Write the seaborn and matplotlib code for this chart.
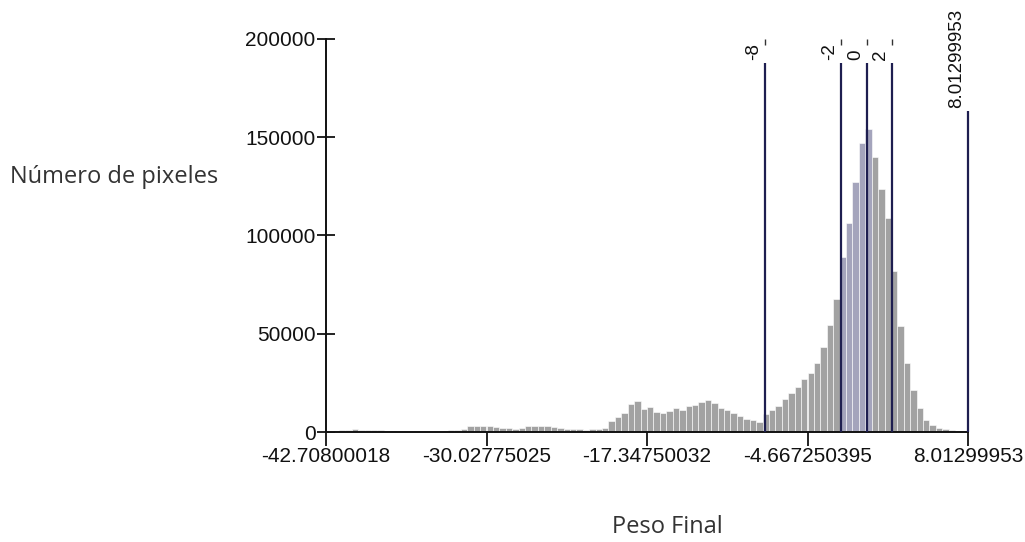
import numpy as np
import pandas as pd
import matplotlib
matplotlib.use("Agg")
import matplotlib.pyplot as plt
import matplotlib.transforms as mtransforms
import seaborn as sns

# Histogram of "Peso Final": 100 bins between the min and max value
x_min = -42.70800018
x_max = 8.01299953
counts = [
    300, 600, 1000, 1200, 1300, 1200, 1100, 900, 800, 700,
    400, 200, 150, 100, 100, 100, 100, 200, 400, 800,
    1000, 1300, 2800, 3200, 3300, 3000, 2600, 2200, 2000, 1600,
    1800, 2800, 3200, 3100, 2800, 2500, 2000, 1600, 1400, 1300,
    1200, 1300, 1500, 2000, 5700, 7800, 9500, 14200, 15600, 11500,
    12900, 10300, 9600, 10800, 12000, 11400, 13200, 13800, 15400, 16300,
    14900, 12200, 11300, 9800, 8000, 6800, 6000, 5000, 9000, 11000,
    13000, 16600, 19700, 23000, 26800, 30200, 35000, 43400, 54500, 67700,
    89200, 106200, 127100, 147000, 154200, 139800, 123500, 109100, 82100, 54000,
    35000, 21400, 12000, 6100, 3500, 2200, 1500, 1000, 600, 300,
]

x_ticks = [-42.70800018, -30.02775025, -17.34750032, -4.667250395, 8.01299953]
x_tick_labels = ["-42.70800018", "-30.02775025", "-17.34750032", "-4.667250395", "8.01299953"]
y_ticks = [0, 50000, 100000, 150000, 200000]

# class break lines drawn over the histogram
break_values = [-8, -2, 0, 2, 8.01299953]
break_labels = ["-8", "-2", "0", "2", "8.01299953"]
break_tops = [188000, 188000, 188000, 188000, 163500]

edges = np.linspace(x_min, x_max, len(counts) + 1)
centers = (edges[:-1] + edges[1:]) / 2
df = pd.DataFrame({"peso": centers, "pixeles": counts})

sns.set_style("white")
plt.rcParams["font.family"] = ["Liberation Sans", "DejaVu Sans"]

fig = plt.figure(figsize=(10.25, 5.42), dpi=100)
ax = fig.add_axes([326 / 1025, 1 - 432 / 542, 642 / 1025, 393 / 542])

sns.histplot(data=df, x="peso", weights="pixeles", bins=len(counts),
             binrange=(x_min, x_max), color="#a2a2a2",
             alpha=1, edgecolor="white", linewidth=0.4, ax=ax)

# bars between -2 and 0 look slightly bluish in the original
for p in ax.patches:
    c = p.get_x() + p.get_width() / 2
    if -2 <= c <= 0.3:
        p.set_facecolor("#a4a4bc")

ax.set_xlim(x_min, x_max)
ax.set_ylim(0, 200000)
ax.set_xticks(x_ticks)
ax.set_xticklabels(x_tick_labels)
ax.set_yticks(y_ticks)
ax.set_yticklabels([str(v) for v in y_ticks])
ax.set_xlabel("")
ax.set_ylabel("")
ax.grid(False)
sns.despine(ax=ax)
for s in ["left", "bottom"]:
    ax.spines[s].set_linewidth(1.4)
    ax.spines[s].set_color("#111111")
ax.tick_params(axis="y", left=True, direction="inout", length=13, width=1.3,
               labelsize=15, pad=1, colors="#111111")
ax.tick_params(axis="x", bottom=True, direction="out", length=10, width=1.3,
               labelsize=15, pad=1, colors="#111111")

line_color = "#1e1e50"
ax.vlines(break_values, 0, break_tops, color=line_color, linewidth=1.6, clip_on=False, zorder=3)
for v, lab, top in zip(break_values, break_labels, break_tops):
    tr = mtransforms.offset_copy(ax.transData, fig=fig, x=-2, y=2, units="points")
    ax.text(v, top, lab, rotation=90, ha="right", va="bottom", fontsize=13.5,
            color="#111111", transform=tr, clip_on=False)
    if lab != "8.01299953":
        ax.vlines(v, 197000, 200000, color="#333333", linewidth=1, clip_on=False)

fig.text(114 / 1025, 1 - 177 / 542, "Número de pixeles", ha="center", va="center",
         fontsize=17, family=["Open Sans", "DejaVu Sans"], color="#333333")
fig.text(667 / 1025, 1 - 527 / 542, "Peso Final", ha="center", va="center",
         fontsize=17, family=["Open Sans", "DejaVu Sans"], color="#333333")

fig.savefig("out.png", dpi=100, facecolor="white")
